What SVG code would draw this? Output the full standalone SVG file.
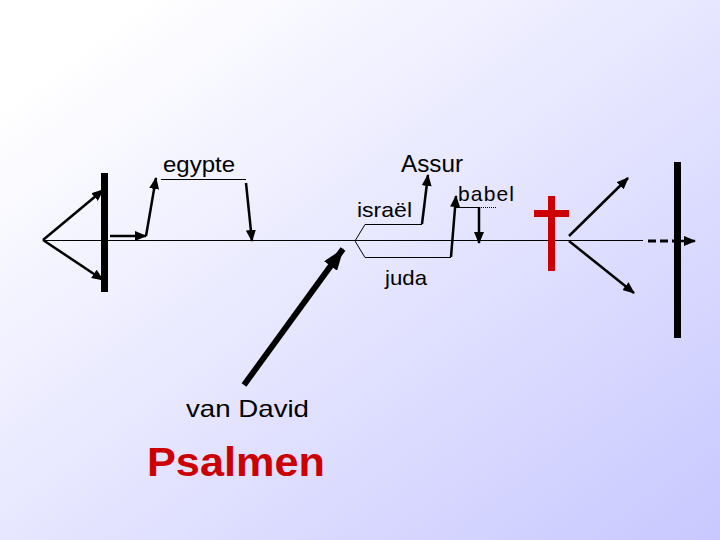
<svg xmlns="http://www.w3.org/2000/svg" width="720" height="540" viewBox="0 0 720 540">
<defs>
<linearGradient id="bg" x1="0" y1="0" x2="1" y2="1">
<stop offset="0" stop-color="#ffffff"/>
<stop offset="0.1" stop-color="#ffffff"/>
<stop offset="1" stop-color="#c8c8ff"/>
</linearGradient>
<marker id="ah" markerUnits="userSpaceOnUse" markerWidth="12" markerHeight="10" viewBox="0 0 12 10" refX="11" refY="5" orient="auto">
<path d="M0,0 L12,5 L0,10 Z" fill="#000"/>
</marker>
<marker id="ahbig" markerUnits="userSpaceOnUse" markerWidth="22" markerHeight="16" viewBox="0 0 22 16" refX="21" refY="8" orient="auto">
<path d="M0,0 L22,8 L0,16 Z" fill="#000"/>
</marker>
</defs>
<style>
.t{font-family:"Liberation Sans",Arial,sans-serif;fill:#000}
.a{stroke:#000;stroke-width:2.5;fill:none;marker-end:url(#ah)}
.th{stroke:#000;stroke-width:1;fill:none}
.bar{fill:#000}
</style>
<rect width="720" height="540" fill="url(#bg)"/>

<g id="connectors">
<line x1="43" y1="240.5" x2="643" y2="240.5" stroke="#000" stroke-width="1"/>
<line x1="648" y1="241" x2="674" y2="241" stroke="#000" stroke-width="3" stroke-dasharray="8,4"/>
<line x1="681" y1="241" x2="695" y2="241" class="a"/>
<line x1="43" y1="240" x2="103" y2="190" class="a"/>
<line x1="43" y1="240" x2="103" y2="280" class="a"/>
<polyline points="110,236 146,236" class="a"/>
<polyline points="146,236 156,178" class="a"/>
<line x1="161" y1="179.5" x2="246" y2="179.5" class="th"/>
<line x1="246" y1="183" x2="252" y2="241" class="a"/>
<polyline points="422,224.5 365,224.5 355,241 365,257.5 451,257.5" class="th"/>
<line x1="422" y1="224" x2="428" y2="175" class="a" stroke-width="3"/>
<line x1="451" y1="257" x2="456" y2="196" class="a" stroke-width="3"/>
<line x1="456" y1="207.5" x2="479" y2="207.5" class="th"/>
<line x1="479" y1="207.5" x2="497" y2="207.5" stroke="#000" stroke-width="1" stroke-dasharray="1,1"/>
<line x1="479" y1="207" x2="479" y2="243" class="a"/>
<line x1="569" y1="236" x2="628" y2="178" class="a"/>
<line x1="569" y1="241" x2="634" y2="293" class="a"/>
<line x1="244" y1="385" x2="343" y2="249" stroke="#000" stroke-width="6" marker-end="url(#ahbig)"/>
</g>

<g id="left-bar"><rect x="101" y="173" width="7" height="119" class="bar"/></g>
<g id="right-bar"><rect x="674" y="162" width="7" height="176" class="bar"/></g>
<g id="cross">
<rect x="548" y="196" width="7" height="75" fill="#cc0000"/>
<rect x="534" y="210" width="35" height="7" fill="#cc0000"/>
</g>

<g id="egypte"><text class="t" x="163" y="172" font-size="22" textLength="72" lengthAdjust="spacingAndGlyphs">egypte</text></g>
<g id="assur"><text class="t" x="401" y="172" font-size="23" textLength="62" lengthAdjust="spacingAndGlyphs">Assur</text></g>
<g id="israel"><text class="t" x="357" y="217" font-size="21" textLength="55" lengthAdjust="spacingAndGlyphs">israël</text></g>
<g id="babel"><text class="t" x="458" y="201" font-size="21" textLength="56" lengthAdjust="spacing">babel</text></g>
<g id="juda"><text class="t" x="385" y="285" font-size="21" textLength="42" lengthAdjust="spacingAndGlyphs">juda</text></g>
<g id="david"><text class="t" x="186" y="417" font-size="24" textLength="123" lengthAdjust="spacingAndGlyphs">van David</text></g>
<g id="psalmen"><text class="t" x="147" y="476" font-size="40" font-weight="bold" style="fill:#cc0000" textLength="178" lengthAdjust="spacingAndGlyphs">Psalmen</text></g>
</svg>
